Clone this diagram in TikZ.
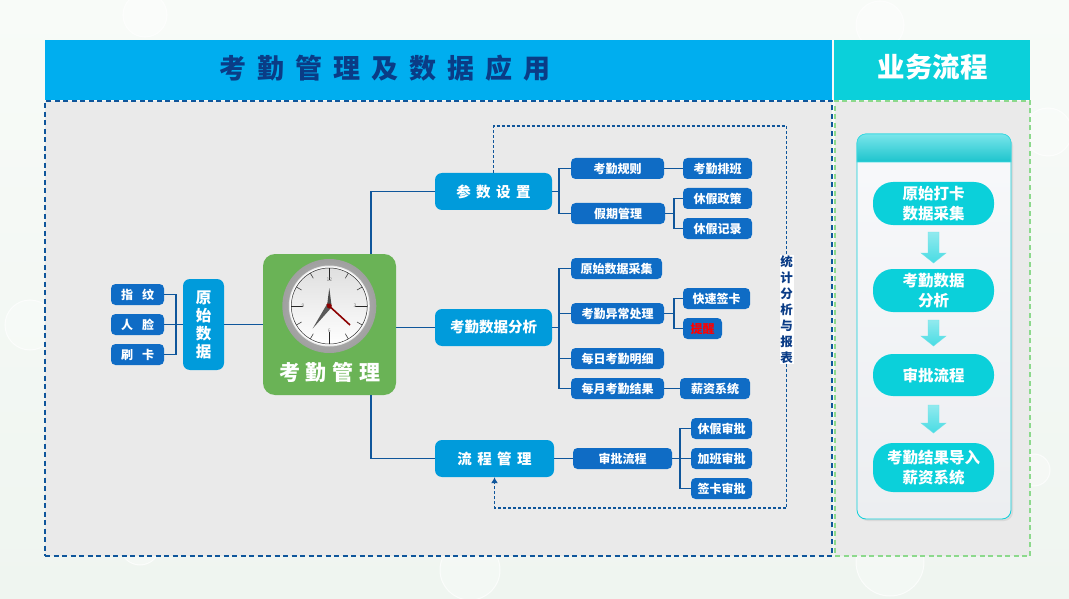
\documentclass[tikz,border=0pt]{standalone}
\usepackage{fontspec}
\setmainfont{Noto Sans CJK SC}
\usepackage{tikz}
\usetikzlibrary{arrows.meta}
\definecolor{topblue}{HTML}{00AEEF}
\definecolor{topcyan}{HTML}{0BD0DA}
\definecolor{panelgray}{HTML}{EAEAEA}
\definecolor{leafblue}{HTML}{0F6CC5}
\definecolor{mainblue}{HTML}{009BDB}
\definecolor{lineblue}{HTML}{0F569B}
\definecolor{navy}{HTML}{0A3C86}
\definecolor{clockgreen}{HTML}{6AB356}
\definecolor{bgtop}{HTML}{F8FBF8}
\definecolor{bgbottom}{HTML}{EFF5F0}
\definecolor{cardtop}{HTML}{F8F9FB}
\definecolor{cardbottom}{HTML}{ECEEF1}
\newcommand{\gap}[1]{\spaceskip=#1\relax}
\begin{document}
\begin{tikzpicture}[x=1pt,y=-1pt]
        \tikzset{leaf/.style = {shape=rectangle,rounded corners=4.5pt,fill=leafblue,text=white,font=\fontsize{12}{14}\bfseries,inner sep=0pt,minimum height=21pt}}
        \tikzset{main/.style = {shape=rectangle,rounded corners=7pt,fill=mainblue,text=white,font=\fontsize{14.5}{16}\bfseries,inner sep=0pt,minimum height=37pt}}
        \tikzset{pill/.style = {shape=rectangle,rounded corners=20pt,fill=topcyan,text=white,font=\fontsize{15.5}{20}\bfseries,align=center,inner sep=0pt,minimum width=121pt}}
        \tikzset{link/.style = {draw=lineblue,line width=1.1pt}}
        \tikzset{loopline/.style = {draw=lineblue,line width=1.1pt,dash pattern=on 3pt off 2pt}}
        \tikzset{flowarrow/.style = {top color=topcyan!45!white,bottom color=topcyan!75!white,draw=topcyan!60!white,line width=0.4pt}}
        \tikzset{bubble/.style = {draw=white,line width=1pt,fill=white,fill opacity=0.3,draw opacity=0.7}}
        \useasboundingbox (0,0) rectangle (1069,599);
        % background
        \shade[top color=bgtop,bottom color=bgbottom] (0,0) rectangle (1069,599);
        \foreach \bx/\by/\br in {30/325/25,145/15/22,140/545/20,470/570/30,890/562/34,880/25/24,1048/132/24,1034/470/16}
            \draw[bubble] (\bx,\by) circle (\br);
        % header and panels
        \node[fill=topblue,minimum width=787pt,minimum height=60pt,inner sep=0pt] (headl) at (438.5,70) {};
        \node[fill=topcyan,minimum width=196pt,minimum height=60pt,inner sep=0pt] (headr) at (932,70) {};
        \node[text=navy,font=\fontsize{27}{30}\bfseries,inner sep=0pt] (titlel) at (385,68) {\gap{11pt}考 勤 管 理 及 数 据 应 用};
        \node[text=white,font=\fontsize{27.5}{30}\bfseries,inner sep=0pt] (titler) at (932.5,67) {业务流程};
        \node[fill=panelgray,draw=lineblue,line width=1.4pt,dash pattern=on 5pt off 3.5pt,minimum width=787pt,minimum height=455pt,inner sep=0pt] (panell) at (438.5,328.5) {};
        \node[fill=panelgray,draw=green!50!gray!60,line width=1.4pt,dash pattern=on 5pt off 3.5pt,minimum width=195pt,minimum height=455pt,inner sep=0pt] (panelr) at (932.5,328.5) {};
        % left side
        \node[leaf,minimum width=53pt] (zhiwen) at (137.5,294.5) {\gap{9pt}指 纹};
        \node[leaf,minimum width=53pt] (renlian) at (137.5,324.5) {\gap{9pt}人 脸};
        \node[leaf,minimum width=53pt] (shuaka) at (137.5,354.5) {\gap{9pt}刷 卡};
        \node[main,font=\fontsize{15.5}{18}\bfseries,align=center,minimum width=41pt,minimum height=91pt] (raw) at (203.5,324.5) {原\\始\\数\\据};
        \node[shape=rectangle,rounded corners=12pt,fill=clockgreen,minimum width=133pt,minimum height=141pt,inner sep=0pt] (clockbox) at (329.5,324.5) {};
        \node[text=white,font=\fontsize{21}{24}\bfseries,inner sep=0pt] (clocktext) at (330,372) {\gap{6pt}考 勤 管 理};
        % clock
        \shade[inner color=gray!45,outer color=gray!75] (329.3,306) circle (47);
        \fill[gray!20] (329.3,306) circle (40.5);
        \shade[top color=gray!25,bottom color=white,draw=white,line width=1pt] (329.3,306) circle (39);
        \draw[black!80,line width=0.5pt] (329.3,306) circle (38);
        \foreach \ang in {0,30,...,330}
            \draw[black!75,line width=0.6pt] (329.3,306) ++(\ang:38) -- ++(\ang:-6);
        \foreach \ang in {0,90,180,270}
            \draw[black!85,line width=0.8pt] (329.3,306) ++(\ang:38) -- ++(\ang:-12);
        \node[text=gray,font=\fontsize{5}{5}\selectfont,inner sep=0pt] (hnoon) at (329.3,280) {12};
        \node[text=gray,font=\fontsize{5}{5}\selectfont,inner sep=0pt] (hthree) at (355,306) {3};
        \node[text=gray,font=\fontsize{5}{5}\selectfont,inner sep=0pt] (hsix) at (329.3,331) {6};
        \node[text=gray,font=\fontsize{5}{5}\selectfont,inner sep=0pt] (hnine) at (303,306) {9};
        \fill[black!70] (327,306) -- (329.3,288) -- (331.6,306) -- cycle;
        \fill[black!65] (327,304) -- (312.7,328.5) -- (331.5,307.5) -- cycle;
        \draw[red!55!black,line width=1.6pt] (327,304) -- (350,325);
        \fill[red!55!black] (329.3,306) circle (2.5);
        % parameter branch
        \node[main,minimum width=117pt] (param) at (493.5,191.5) {\gap{5.5pt}参 数 设 置};
        \node[leaf,minimum width=93pt] (rule) at (617.5,168.5) {考勤规则};
        \node[leaf,minimum width=94pt] (holiday) at (618,213.5) {假期管理};
        \node[leaf,minimum width=69pt] (shift) at (717.5,168.5) {考勤排班};
        \node[leaf,minimum width=69pt] (policy) at (717.5,198.5) {休假政策};
        \node[leaf,minimum width=69pt] (record) at (717.5,228.5) {休假记录};
        % data branch
        \node[main,minimum width=117pt] (data) at (493.5,327.5) {考勤数据分析};
        \node[leaf,minimum width=91pt] (collect) at (616.5,268.5) {原始数据采集};
        \node[leaf,minimum width=93pt] (abnormal) at (617.5,313.5) {考勤异常处理};
        \node[leaf,minimum width=93pt] (daily) at (617.5,358.5) {每日考勤明细};
        \node[leaf,minimum width=93pt] (monthly) at (617.5,388.5) {每月考勤结果};
        \node[leaf,minimum width=67pt] (quick) at (716.5,298.5) {快速签卡};
        \node[leaf,minimum width=39pt,text=red] (remind) at (702.5,328.5) {提醒};
        \node[leaf,minimum width=70pt] (salary) at (715,388.5) {薪资系统};
        % flow branch
        \node[main,minimum width=119pt] (flow) at (494.5,458.5) {\gap{5.5pt}流 程 管 理};
        \node[leaf,minimum width=99pt] (approve) at (622.5,458.5) {审批流程};
        \node[leaf,minimum width=61pt] (leave) at (721.5,428.5) {休假审批};
        \node[leaf,minimum width=61pt] (overtime) at (721.5,458.5) {加班审批};
        \node[leaf,minimum width=61pt] (signcard) at (721.5,488.5) {签卡审批};
        % statistics label
        \node[fill=white,text=navy,font=\fontsize{12.5}{16}\bfseries,align=center,inner sep=0pt,minimum width=14pt] (stat) at (786.5,309.5) {统\\计\\分\\析\\与\\报\\表};
        % junctions
        \coordinate (jleft) at (176,324.5);
        \coordinate (jup) at (371,254);
        \coordinate (jdown) at (371,395);
        \coordinate (ja) at (559,191.5);
        \coordinate (jb) at (674,213.5);
        \coordinate (jc) at (559,327.5);
        \coordinate (jd) at (674,313.5);
        \coordinate (je) at (680,458.5);
        \coordinate (loopa) at (786.5,126);
        \coordinate (loopb) at (786.5,508);
        % edges
        \draw[link] (zhiwen.east) -| (jleft);
        \draw[link] (shuaka.east) -| (jleft);
        \draw[link] (renlian.east) -- (raw.west);
        \draw[link] (raw.east) -- (clockbox.west);
        \draw[link] (jup) |- (param.west);
        \draw[link] (clockbox.east |- data.west) -- (data.west);
        \draw[link] (jdown) |- (flow.west);
        \draw[link] (param.east) -- (ja);
        \draw[link] (ja) |- (rule.west);
        \draw[link] (ja) |- (holiday.west);
        \draw[link] (rule.east) -- (shift.west);
        \draw[link] (holiday.east) -- (jb);
        \draw[link] (jb) |- (policy.west);
        \draw[link] (jb) |- (record.west);
        \draw[link] (data.east) -- (jc);
        \draw[link] (jc) |- (collect.west);
        \draw[link] (jc) |- (abnormal.west);
        \draw[link] (jc) |- (daily.west);
        \draw[link] (jc) |- (monthly.west);
        \draw[link] (abnormal.east) -- (jd);
        \draw[link] (jd) |- (quick.west);
        \draw[link] (jd) |- (remind.west);
        \draw[link] (monthly.east) -- (salary.west);
        \draw[link] (flow.east) -- (approve.west);
        \draw[link] (approve.east) -- (overtime.west);
        \draw[link] (je) |- (leave.west);
        \draw[link] (je) |- (signcard.west);
        \draw[loopline] (param.north) |- (loopa) -- (stat.north);
        \draw[loopline,-{Latex[length=6pt,width=7pt]}] (stat.south) -- (loopb) -| (flow.south);
        % process card
        \fill[gray!30,rounded corners=9pt] (859,137) rectangle (1013,521);
        \node[shape=rectangle,rounded corners=9pt,top color=cardtop,bottom color=cardbottom,draw=topcyan,line width=0.8pt,minimum width=154pt,minimum height=385pt,inner sep=0pt] (card) at (934,326.5) {};
        \shade[top color=topcyan!55!white,bottom color=topcyan!85!gray,draw=topcyan!80!white,line width=0.6pt] (857,162) [rounded corners=9pt] -- (857,134) -- (1011,134) [sharp corners] -- (1011,162) -- cycle;
        \node[pill,minimum height=43pt] (stepa) at (933.5,203.5) {原始打卡\\数据采集};
        \node[pill,minimum height=43pt] (stepb) at (933.5,290.5) {考勤数据\\分析};
        \node[pill,minimum height=42pt] (stepc) at (933.5,375) {审批流程};
        \node[pill,minimum height=49pt] (stepd) at (933.5,467.5) {考勤结果导入\\薪资系统};
        \foreach \ya/\yb in {232/263,320/346,405/433}
            \draw[flowarrow] (928,\ya) -- (939,\ya) -- (939,\yb-10) -- (946,\yb-10) -- (933.5,\yb) -- (921,\yb-10) -- (928,\yb-10) -- cycle;
    \end{tikzpicture}
\end{document}
